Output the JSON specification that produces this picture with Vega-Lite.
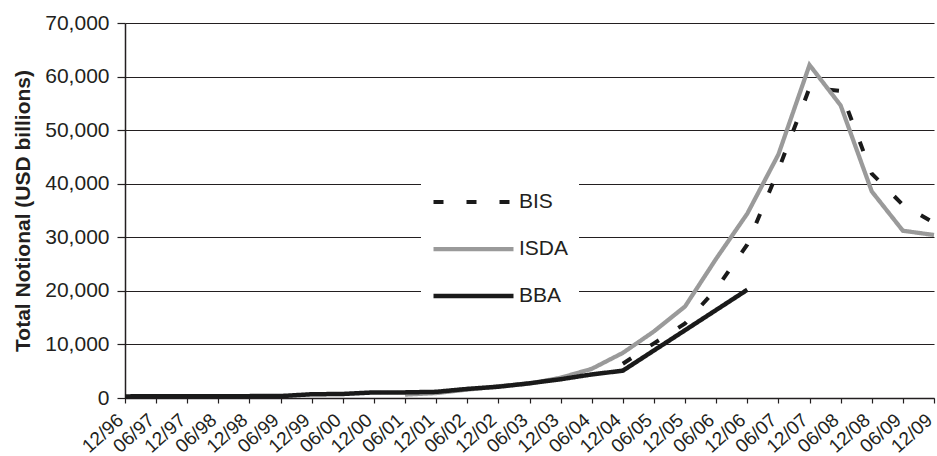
{
  "$schema": "https://vega.github.io/schema/vega-lite/v6.json",
  "width": 809,
  "height": 375,
  "autosize": "none",
  "padding": {"left": 125, "top": 23, "right": 3, "bottom": 58},
  "background": "white",
  "config": {
    "font": "Liberation Sans",
    "view": {"stroke": null},
    "axis": {"labelFont": "Liberation Sans", "labelColor": "#231f20", "titleColor": "#231f20", "domainColor": "#231f20", "tickColor": "#231f20"}
  },
  "data": {
    "values": [
      {"series": "BIS", "date": "12/04", "value": 6396},
      {"series": "BIS", "date": "06/05", "value": 10211},
      {"series": "BIS", "date": "12/05", "value": 13908},
      {"series": "BIS", "date": "06/06", "value": 20352},
      {"series": "BIS", "date": "12/06", "value": 28650},
      {"series": "BIS", "date": "06/07", "value": 42580},
      {"series": "BIS", "date": "12/07", "value": 57894},
      {"series": "BIS", "date": "06/08", "value": 57325},
      {"series": "BIS", "date": "12/08", "value": 41883},
      {"series": "BIS", "date": "06/09", "value": 36046},
      {"series": "BIS", "date": "12/09", "value": 32693},
      {"series": "ISDA", "date": "06/01", "value": 632},
      {"series": "ISDA", "date": "12/01", "value": 919},
      {"series": "ISDA", "date": "06/02", "value": 1563},
      {"series": "ISDA", "date": "12/02", "value": 2192},
      {"series": "ISDA", "date": "06/03", "value": 2688},
      {"series": "ISDA", "date": "12/03", "value": 3779},
      {"series": "ISDA", "date": "06/04", "value": 5442},
      {"series": "ISDA", "date": "12/04", "value": 8422},
      {"series": "ISDA", "date": "06/05", "value": 12430},
      {"series": "ISDA", "date": "12/05", "value": 17096},
      {"series": "ISDA", "date": "06/06", "value": 26006},
      {"series": "ISDA", "date": "12/06", "value": 34423},
      {"series": "ISDA", "date": "06/07", "value": 45464},
      {"series": "ISDA", "date": "12/07", "value": 62173},
      {"series": "ISDA", "date": "06/08", "value": 54612},
      {"series": "ISDA", "date": "12/08", "value": 38564},
      {"series": "ISDA", "date": "06/09", "value": 31223},
      {"series": "ISDA", "date": "12/09", "value": 30428},
      {"series": "BBA", "date": "12/96", "value": 300},
      {"series": "BBA", "date": "06/97", "value": 320},
      {"series": "BBA", "date": "12/97", "value": 330},
      {"series": "BBA", "date": "06/98", "value": 340},
      {"series": "BBA", "date": "12/98", "value": 350},
      {"series": "BBA", "date": "06/99", "value": 360},
      {"series": "BBA", "date": "12/99", "value": 700},
      {"series": "BBA", "date": "06/00", "value": 750},
      {"series": "BBA", "date": "12/00", "value": 1050},
      {"series": "BBA", "date": "06/01", "value": 1050},
      {"series": "BBA", "date": "12/01", "value": 1150},
      {"series": "BBA", "date": "06/02", "value": 1700},
      {"series": "BBA", "date": "12/02", "value": 2100},
      {"series": "BBA", "date": "06/03", "value": 2750},
      {"series": "BBA", "date": "12/03", "value": 3500},
      {"series": "BBA", "date": "06/04", "value": 4400},
      {"series": "BBA", "date": "12/04", "value": 5100},
      {"series": "BBA", "date": "12/06", "value": 20207}
    ]
  },
  "mark": {"type": "line", "strokeCap": "butt", "strokeJoin": "miter"},
  "encoding": {
    "x": {
      "field": "date",
      "type": "ordinal",
      "sort": ["12/96","06/97","12/97","06/98","12/98","06/99","12/99","06/00","12/00","06/01","12/01","06/02","12/02","06/03","12/03","06/04","12/04","06/05","12/05","06/06","12/06","06/07","12/07","06/08","12/08","06/09","12/09"],
      "scale": {"type": "point", "padding": 0},
      "axis": {
        "title": null,
        "labelAngle": -42,
        "labelAlign": "right",
        "labelBaseline": "middle",
        "labelFontSize": 19,
        "labelPadding": 14,
        "labelOffset": -5,
        "tickSize": 5,
        "tickWidth": 1.2,
        "domainWidth": 1.5,
        "grid": false
      }
    },
    "y": {
      "field": "value",
      "type": "quantitative",
      "scale": {"domain": [0, 70000], "nice": false},
      "axis": {
        "title": "Total Notional (USD billions)",
        "titleFontSize": 21,
        "titleFontWeight": "bold",
        "titlePadding": 11,
        "values": [0, 10000, 20000, 30000, 40000, 50000, 60000, 70000],
        "format": ",.0f",
        "labelFontSize": 21,
        "labelPadding": 8,
        "tickSize": 8,
        "tickWidth": 1.2,
        "domainWidth": 1.5,
        "grid": true,
        "gridColor": "#231f20",
        "gridWidth": 1.2,
        "gridOpacity": 1
      }
    },
    "color": {
      "field": "series",
      "type": "nominal",
      "scale": {"domain": ["BIS", "ISDA", "BBA"], "range": ["#1a1a1a", "#9a9a9a", "#1a1a1a"]},
      "legend": {
        "title": null,
        "orient": "none",
        "legendX": 296,
        "legendY": 157,
        "fillColor": "white",
        "padding": 10,
        "symbolType": "stroke",
        "symbolSize": 6400,
        "clipHeight": 24,
        "rowPadding": 23,
        "labelFontSize": 21,
        "labelFont": "Liberation Sans",
        "labelColor": "#231f20",
        "labelOffset": 3
      }
    },
    "strokeDash": {
      "field": "series",
      "type": "nominal",
      "scale": {"domain": ["BIS", "ISDA", "BBA"], "range": [[10, 23], [1, 0], [1, 0]]},
      "legend": null
    },
    "strokeWidth": {
      "field": "series",
      "type": "nominal",
      "scale": {"domain": ["BIS", "ISDA", "BBA"], "range": [4, 4.5, 2.5]},
      "legend": null
    }
  }
}
